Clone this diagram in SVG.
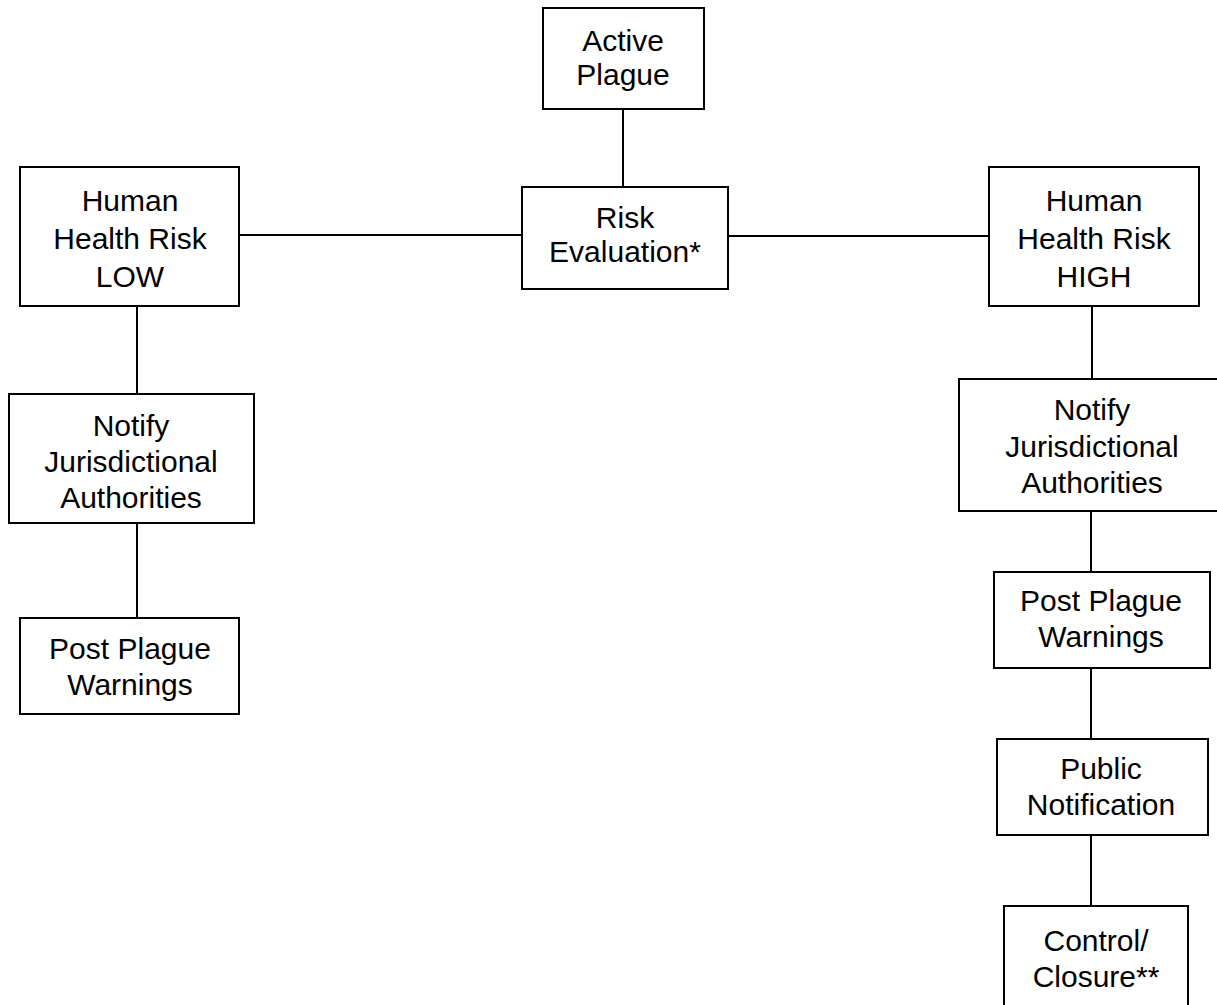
<svg xmlns="http://www.w3.org/2000/svg" width="1217" height="1005" viewBox="0 0 1217 1005">
<style>
.box{fill:#fff;stroke:#000;stroke-width:2}
.t{font-family:"Liberation Sans",Arial,sans-serif;font-size:30px;fill:#000;text-anchor:middle}
.c{stroke:#000;stroke-width:2;fill:none}
</style>
<rect width="1217" height="1005" fill="#fff"/>
<g id="connectors">
<line class="c" x1="623" y1="109" x2="623" y2="187"/>
<line class="c" x1="239" y1="235" x2="522" y2="235"/>
<line class="c" x1="728" y1="236" x2="989" y2="236"/>
<line class="c" x1="137" y1="306" x2="137" y2="394"/>
<line class="c" x1="137" y1="523" x2="137" y2="618"/>
<line class="c" x1="1092" y1="306" x2="1092" y2="379"/>
<line class="c" x1="1091" y1="511" x2="1091" y2="572"/>
<line class="c" x1="1091" y1="668" x2="1091" y2="739"/>
<line class="c" x1="1091" y1="835" x2="1091" y2="906"/>
</g>
<g id="active-plague">
<rect class="box" x="543" y="8" width="161" height="101"/>
<text class="t" x="623" y="51">Active</text>
<text class="t" x="623" y="85">Plague</text>
</g>
<g id="risk-evaluation">
<rect class="box" x="522" y="187" width="206" height="102"/>
<text class="t" x="625" y="228">Risk</text>
<text class="t" x="625" y="262">Evaluation*</text>
</g>
<g id="risk-low">
<rect class="box" x="20" y="167" width="219" height="139"/>
<text class="t" x="130" y="211">Human</text>
<text class="t" x="130" y="249">Health Risk</text>
<text class="t" x="130" y="287">LOW</text>
</g>
<g id="risk-high">
<rect class="box" x="989" y="167" width="210" height="139"/>
<text class="t" x="1094" y="211">Human</text>
<text class="t" x="1094" y="249">Health Risk</text>
<text class="t" x="1094" y="287">HIGH</text>
</g>
<g id="notify-low">
<rect class="box" x="9" y="394" width="245" height="129"/>
<text class="t" x="131" y="436">Notify</text>
<text class="t" x="131" y="472">Jurisdictional</text>
<text class="t" x="131" y="508">Authorities</text>
</g>
<g id="post-low">
<rect class="box" x="20" y="618" width="219" height="96"/>
<text class="t" x="130" y="659">Post Plague</text>
<text class="t" x="130" y="695">Warnings</text>
</g>
<g id="notify-high">
<rect class="box" x="959" y="379" width="266" height="132"/>
<text class="t" x="1092" y="420">Notify</text>
<text class="t" x="1092" y="457">Jurisdictional</text>
<text class="t" x="1092" y="493">Authorities</text>
</g>
<g id="post-high">
<rect class="box" x="994" y="572" width="216" height="96"/>
<text class="t" x="1101" y="611">Post Plague</text>
<text class="t" x="1101" y="647">Warnings</text>
</g>
<g id="public-notification">
<rect class="box" x="997" y="739" width="211" height="96"/>
<text class="t" x="1101" y="779">Public</text>
<text class="t" x="1101" y="815">Notification</text>
</g>
<g id="control-closure">
<rect class="box" x="1004" y="906" width="184" height="110"/>
<text class="t" x="1096" y="951">Control/</text>
<text class="t" x="1096" y="987">Closure**</text>
</g>
</svg>
